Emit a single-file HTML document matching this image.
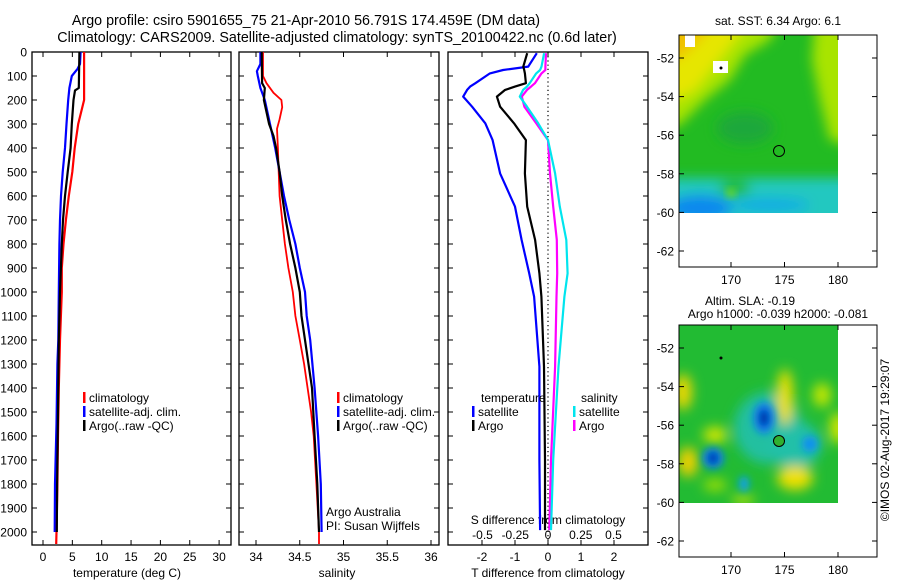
<!DOCTYPE html>
<html><head><meta charset="utf-8"><style>
html,body{margin:0;padding:0;background:#fff;}
svg{display:block;font-family:"Liberation Sans",sans-serif;}
text{fill:#000;}
</style></head><body>
<svg id="fig" width="900" height="580" viewBox="0 0 900 580" xmlns="http://www.w3.org/2000/svg">
<defs>
<filter id="blur4" x="-50%" y="-50%" width="200%" height="200%"><feGaussianBlur stdDeviation="4"/></filter>
<filter id="blur7" x="-50%" y="-50%" width="200%" height="200%"><feGaussianBlur stdDeviation="6"/></filter>
<clipPath id="clip1"><rect x="679" y="35" width="159" height="178"/></clipPath>
<clipPath id="clip2"><rect x="679" y="325" width="159" height="178"/></clipPath>
</defs>
<text x="306" y="25" font-size="14.3" text-anchor="middle">Argo profile: csiro 5901655_75 21-Apr-2010 56.791S 174.459E (DM data)</text>
<text x="337" y="42" font-size="14.3" text-anchor="middle">Climatology: CARS2009. Satellite-adjusted climatology: synTS_20100422.nc (0.6d later)</text>

<!-- map 1 -->
<g>
<g clip-path="url(#clip1)">
<rect x="679" y="35" width="159" height="178" fill="#22bb22"/>
<g filter="url(#blur7)">
<polygon points="660,20 780,20 770,40 745,55 730,80 705,100 680,125 660,130" fill="#a8e400"/>
<polygon points="815,20 850,20 850,145 830,140 820,100 812,60" fill="#a8e400"/>
<polygon points="660,20 750,20 735,40 715,65 695,90 675,100 660,105" fill="#e6e600"/>
<polygon points="660,20 715,20 698,42 680,58 660,62" fill="#f0c000"/>
<ellipse cx="745" cy="128" rx="28" ry="16" fill="#1ea83a"/>
<rect x="660" y="178" width="200" height="50" fill="#20c8c0"/>
<ellipse cx="700" cy="208" rx="32" ry="13" fill="#1088ee"/>
<ellipse cx="770" cy="205" rx="40" ry="6" fill="#10a8e8"/>
<ellipse cx="735" cy="188" rx="16" ry="8" fill="#22bb22"/>
</g>
<circle cx="731" cy="193" r="4" fill="#80e000" filter="url(#blur4)"/>
<rect x="685" y="35" width="10" height="12" fill="#fff"/>
<rect x="713" y="61" width="15" height="12" fill="#fff"/>
<circle cx="721" cy="68" r="1.5" fill="#000"/>
</g>
<rect x="679" y="35" width="198" height="232" fill="none" stroke="#000" stroke-width="1"/>
<circle cx="779" cy="151" r="5.5" fill="none" stroke="#000" stroke-width="1"/>
<text x="778" y="25" font-size="12" text-anchor="middle">sat. SST: 6.34  Argo: 6.1</text>
</g>

<!-- map 2 -->
<g>
<g clip-path="url(#clip2)">
<rect x="679" y="325" width="159" height="178" fill="#22bb33"/>
<g filter="url(#blur7)">
<ellipse cx="768" cy="428" rx="34" ry="36" fill="#20c0a0"/>
<ellipse cx="795" cy="445" rx="26" ry="24" fill="#20c0a8"/>
<ellipse cx="785" cy="397" rx="8" ry="28" fill="#f0e000"/>
<ellipse cx="795" cy="478" rx="18" ry="12" fill="#f0e000"/>
<ellipse cx="683" cy="392" rx="9" ry="18" fill="#f0d800"/>
<ellipse cx="688" cy="462" rx="10" ry="15" fill="#f0d000"/>
<ellipse cx="715" cy="435" rx="12" ry="8" fill="#d8e800"/>
<ellipse cx="822" cy="395" rx="9" ry="12" fill="#c8e800"/>
<ellipse cx="838" cy="428" rx="8" ry="16" fill="#d8e800"/>
<ellipse cx="715" cy="485" rx="12" ry="6" fill="#a0e000"/>
<ellipse cx="743" cy="500" rx="12" ry="4" fill="#d0e800"/>
</g>
<g filter="url(#blur4)">
<ellipse cx="764" cy="418" rx="11" ry="16" fill="#1080f0"/>
<ellipse cx="764" cy="418" rx="5" ry="9" fill="#0020a0"/>
<ellipse cx="713" cy="458" rx="11" ry="11" fill="#1080f0"/>
<ellipse cx="713" cy="458" rx="5" ry="6" fill="#0020a0"/>
<ellipse cx="810" cy="444" rx="8" ry="8" fill="#1090f0"/>
<ellipse cx="744" cy="484" rx="5" ry="8" fill="#10a0f0"/>
</g>
<circle cx="721" cy="358" r="1.5" fill="#000"/>
</g>
<rect x="679" y="325" width="198" height="232" fill="none" stroke="#000" stroke-width="1"/>
<circle cx="779" cy="441" r="5.5" fill="#30b030" stroke="#000" stroke-width="1"/>
<text x="750" y="305" font-size="12" text-anchor="middle">Altim. SLA: -0.19</text>
<text x="778" y="318" font-size="12" text-anchor="middle">Argo h1000: -0.039 h2000: -0.081</text>
</g>
<text transform="translate(889,440) rotate(-90)" font-size="12" text-anchor="middle">©IMOS 02-Aug-2017 19:29:07</text>

<g id="plots"></g>
</svg>
<script>
// depth levels (dbar) for each profile
const tDepth = [0, 50, 100, 150, 200, 300, 400, 500, 600, 700, 800, 900, 1000, 1200, 1400, 1600, 1800, 2000, 2050];
const tClim  = [7.0, 7.0, 7.0, 7.0, 7.0, 6.0, 5.4, 5.0, 4.4, 3.9, 3.5, 3.2, 3.2, 2.9, 2.7, 2.55, 2.45, 2.3, 2.25];
const tSatDepth = [0, 50, 70, 100, 150, 200, 300, 400, 500, 600, 700, 800, 1000, 1200, 1300, 1550, 1800, 2000];
const tSat   = [6.4, 6.3, 5.9, 4.9, 4.5, 4.3, 4.0, 3.75, 3.35, 3.07, 2.9, 2.8, 2.7, 2.6, 2.45, 2.3, 2.05, 2.0];
const tArgoDepth = [0, 150, 160, 200, 300, 400, 500, 600, 700, 800, 1000, 1200, 1500, 1800, 2000];
const tArgo  = [6.2, 6.1, 5.45, 5.2, 4.9, 4.7, 4.2, 3.75, 3.4, 3.2, 2.9, 2.7, 2.55, 2.4, 2.35];

const sClimDepth = [0, 100, 130, 170, 200, 230, 280, 320, 400, 500, 600, 700, 800, 900, 1000, 1100, 1200, 1300, 1400, 1500, 1600, 1800, 2000, 2050];
const sClim = [34.08, 34.08, 34.12, 34.2, 34.29, 34.3, 34.27, 34.24, 34.25, 34.26, 34.27, 34.3, 34.33, 34.37, 34.42, 34.45, 34.5, 34.55, 34.59, 34.63, 34.66, 34.69, 34.72, 34.72];
const sSatDepth = [0, 50, 80, 100, 150, 200, 250, 300, 350, 400, 500, 600, 700, 800, 900, 1000, 1100, 1200, 1400, 1600, 1800, 2000];
const sSat = [34.05, 34.05, 34.01, 34.02, 34.05, 34.1, 34.13, 34.16, 34.19, 34.22, 34.27, 34.32, 34.38, 34.45, 34.5, 34.56, 34.58, 34.62, 34.67, 34.71, 34.74, 34.75];
const sArgoDepth = [0, 130, 150, 200, 250, 300, 350, 400, 500, 600, 700, 800, 900, 1000, 1100, 1200, 1400, 1600, 1800, 2000];
const sArgo = [34.065, 34.07, 34.1, 34.09, 34.12, 34.15, 34.2, 34.23, 34.27, 34.3, 34.34, 34.39, 34.45, 34.5, 34.52, 34.56, 34.64, 34.67, 34.7, 34.72];

const dDepth = [5, 61, 75, 89, 130, 144, 158, 186, 228, 297, 367, 506, 644, 783, 922, 1019, 1311, 1700, 1992];
const dTSat  = [-0.34, -0.6, -1.36, -1.76, -2.2, -2.36, -2.45, -2.57, -2.3, -1.9, -1.68, -1.45, -1.0, -0.8, -0.57, -0.42, -0.26, -0.26, -0.24];
const dTArgo = [-0.63, -0.75, -0.72, -0.7, -0.67, -1.0, -1.3, -1.55, -1.45, -1.03, -0.67, -0.7, -0.63, -0.39, -0.26, -0.2, -0.12, -0.09, -0.09];
const dSArgo = [-0.015, -0.02, -0.02, -0.05, -0.1, -0.13, -0.16, -0.2, -0.18, -0.09, 0.0, 0.015, 0.04, 0.067, 0.07, 0.065, 0.054, 0.023, 0.01];
const dSSat  = [-0.03, -0.05, -0.06, -0.09, -0.14, -0.16, -0.19, -0.215, -0.16, -0.075, 0.0, 0.054, 0.09, 0.14, 0.15, 0.125, 0.08, 0.04, 0.023];

const depthTicks = [0,100,200,300,400,500,600,700,800,900,1000,1100,1200,1300,1400,1500,1600,1700,1800,1900,2000];
const tTicks = [0,5,10,15,20,25,30];
const sTicks = [34,34.5,35,35.5,36];
const dTTicks = [-2,-1,0,1,2];
const dSTicks = [-0.5,-0.25,0,0.25,0.5];
const latTicks = [-52,-54,-56,-58,-60,-62];
const lonTicks = [170,175,180];

const NS = 'http://www.w3.org/2000/svg';
const root = document.getElementById('plots');
function mk(tag, attrs, parent, text){
  const e = document.createElementNS(NS, tag);
  for (const k in attrs) e.setAttribute(k, attrs[k]);
  if (text !== undefined) e.textContent = text;
  (parent || root).appendChild(e);
  return e;
}
const TOP = 52, BOT = 545;
const yD = d => TOP + d * 0.24;
const xT = v => 43 + v * 5.87;
const xS = v => 256 + (v - 34) * 87.5;
const xDT = v => 548 + v * 33;
const xDS = v => 548 + v * 131;
const lonX = v => 731 + (v - 170) * 10.7;
const latY = v => 58 + (-52 - v) * 19.3;

function panel(name, x0, x1){
  const g = mk('g', {});
  
  
  mk('rect', {x:x0, y:TOP, width:x1-x0, height:BOT-TOP, fill:'none', stroke:'#000', 'stroke-width':1.3}, g);
  depthTicks.forEach(d => {
    mk('line', {x1:x0, x2:x0+5, y1:yD(d), y2:yD(d), stroke:'#000'}, g);
    mk('line', {x1:x1-5, x2:x1, y1:yD(d), y2:yD(d), stroke:'#000'}, g);
  });
  return g;
}
function xticks(g, ticks, sx, labelY, fmt){
  ticks.forEach(t => {
    const x = sx(t);
    mk('line', {x1:x, x2:x, y1:TOP, y2:TOP+5, stroke:'#000'}, g);
    mk('line', {x1:x, x2:x, y1:BOT-5, y2:BOT, stroke:'#000'}, g);
    const lab = mk('text', {x:x, y:labelY, 'font-size':12, 'text-anchor':'middle'}, g, fmt ? fmt(t) : String(t));
    
    
  });
}
function line(g, name, xs, ds, sx, color, w){
  const pts = xs.map((v,i) => sx(v).toFixed(1) + ',' + yD(ds[i]).toFixed(1)).join(' ');
  const p = mk('polyline', {points:pts, fill:'none', stroke:color, 'stroke-width':w||2.2, 'stroke-linejoin':'round'}, g);
  
  
}
function legend(g, items, bx, y0){
  items.forEach((it,i) => {
    const y = y0 + i*14;
    mk('rect', {x:bx, y:y-10, width:2.5, height:11, fill:it[1]}, g);
    const t = mk('text', {x:bx+6, y:y, 'font-size':12}, g, it[0]);
    
    
  });
}

// Panel 1: temperature
const p1 = panel('temperature-panel', 32, 231);
depthTicks.forEach(d => {
  const t = mk('text', {x:27, y:yD(d)+4.5, 'font-size':12, 'text-anchor':'end'}, p1, String(d));
  
  
});
xticks(p1, tTicks, xT, 561);
mk('text', {x:127, y:577, 'font-size':12, 'text-anchor':'middle'}, p1, 'temperature (deg C)');
line(p1, 'temp-climatology-line', tClim, tDepth, xT, '#ff0000');
line(p1, 'temp-satellite-line', tSat, tSatDepth, xT, '#0000ff');
line(p1, 'temp-argo-line', tArgo, tArgoDepth, xT, '#000000');
legend(p1, [['climatology','#ff0000'],['satellite-adj. clim.','#0000ff'],['Argo(..raw -QC)','#000000']], 83, 402);

// Panel 2: salinity
const p2 = panel('salinity-panel', 239, 439);
xticks(p2, sTicks, xS, 561);
mk('text', {x:337, y:577, 'font-size':12, 'text-anchor':'middle'}, p2, 'salinity');
line(p2, 'sal-climatology-line', sClim, sClimDepth, xS, '#ff0000', 1.8);
line(p2, 'sal-satellite-line', sSat, sSatDepth, xS, '#0000ff');
line(p2, 'sal-argo-line', sArgo, sArgoDepth, xS, '#000000');
legend(p2, [['climatology','#ff0000'],['satellite-adj. clim.','#0000ff'],['Argo(..raw -QC)','#000000']], 337, 402);
mk('text', {x:326, y:516, 'font-size':12}, p2, 'Argo Australia');
mk('text', {x:326, y:530, 'font-size':12}, p2, 'PI: Susan Wijffels');

// Panel 3: differences
const p3 = panel('difference-panel', 448, 648);
mk('line', {x1:548, x2:548, y1:TOP, y2:BOT, stroke:'#000', 'stroke-dasharray':'1.2,3', 'stroke-width':1.2}, p3);
xticks(p3, dTTicks, xDT, 561);
dSTicks.forEach(t => {
  const lab = mk('text', {x:xDS(t), y:539, 'font-size':12, 'text-anchor':'middle'}, p3, String(t));
  
  
});
mk('text', {x:548, y:524, 'font-size':12, 'text-anchor':'middle'}, p3, 'S difference from climatology');
mk('text', {x:548, y:577, 'font-size':12, 'text-anchor':'middle'}, p3, 'T difference from climatology');
line(p3, 'tdiff-satellite-line', dTSat, dDepth, xDT, '#0000ff');
line(p3, 'tdiff-argo-line', dTArgo, dDepth, xDT, '#000000');
line(p3, 'sdiff-argo-line', dSArgo, dDepth, xDS, '#ff00ff');
line(p3, 'sdiff-satellite-line', dSSat, dDepth, xDS, '#00e5ee');
mk('text', {x:481, y:402, 'font-size':12}, p3, 'temperature');
mk('text', {x:581, y:402, 'font-size':12}, p3, 'salinity');
legend(p3, [['satellite','#0000ff'],['Argo','#000000']], 472, 416);
legend(p3, [['satellite','#00e5ee'],['Argo','#ff00ff']], 573, 416);

// Map axes
[0, 290].forEach((off, mi) => {
  const g = mk('g', {});
  
  
  latTicks.forEach(l => {
    const y = latY(l) + off;
    mk('line', {x1:679, x2:684, y1:y, y2:y, stroke:'#000'}, g);
    mk('line', {x1:872, x2:877, y1:y, y2:y, stroke:'#000'}, g);
    mk('text', {x:674, y:y+4.5, 'font-size':12, 'text-anchor':'end'}, g, String(l));
  });
  lonTicks.forEach(l => {
    const x = lonX(l);
    mk('line', {x1:x, x2:x, y1:35+off, y2:40+off, stroke:'#000'}, g);
    mk('line', {x1:x, x2:x, y1:262+off, y2:267+off, stroke:'#000'}, g);
    mk('text', {x:x, y:284+off, 'font-size':12, 'text-anchor':'middle'}, g, String(l));
  });
});
</script>
</body></html>
